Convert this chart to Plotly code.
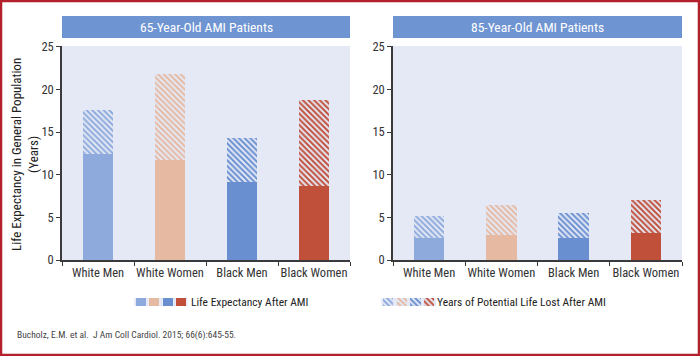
import plotly.graph_objects as go

categories = ["White Men", "White Women", "Black Men", "Black Women"]
colors = ["#8eaadc", "#e6b9a3", "#6a8fd1", "#c1503b"]

after_65 = [12.4, 11.7, 9.1, 8.7]
lost_65 = [5.2, 10.1, 5.2, 10.1]
after_85 = [2.55, 2.95, 2.55, 3.15]
lost_85 = [2.6, 3.5, 3.0, 3.9]

panel_titles = ["65-Year-Old AMI Patients", "85-Year-Old AMI Patients"]
y_ticks = [0, 5, 10, 15, 20, 25]
y_title = "Life Expectancy in General Population<br>(Years)"
legend_labels = ["Life Expectancy After AMI", "Years of Potential Life Lost After AMI"]
citation = "Bucholz, E.M. et al.  J Am Coll Cardiol. 2015; 66(6):645-55."

FONT = "Roboto Condensed"
W, H = 700, 356
ML, MR, MT, MB = 62, 18, 16, 10
PW, PH = W - ML - MR, H - MT - MB

def px(x):
    return (x - ML) / PW

def py(y):
    return (H - MB - y) / PH

hatch = dict(shape="\\", bgcolor="white", size=4, solidity=0.5, fillmode="replace")

fig = go.Figure()
for i, (after, lost) in enumerate([(after_65, lost_65), (after_85, lost_85)]):
    xa = "x" if i == 0 else "x2"
    ya = "y" if i == 0 else "y2"
    fig.add_trace(go.Bar(x=categories, y=after, width=0.42, marker=dict(color=colors, line=dict(width=0)),
                         xaxis=xa, yaxis=ya, showlegend=False))
    fig.add_trace(go.Bar(x=categories, y=lost, width=0.42,
                         marker=dict(color=colors, line=dict(width=0), pattern=hatch),
                         xaxis=xa, yaxis=ya, showlegend=False))

# legend swatches on hidden mini axes
sw = [0, 1, 2, 3]
fig.add_trace(go.Bar(x=sw, y=[1] * 4, width=0.75, marker=dict(color=colors, line=dict(width=0)),
                     xaxis="x3", yaxis="y3", showlegend=False, hoverinfo="skip"))
fig.add_trace(go.Bar(x=sw, y=[1] * 4, width=0.75, marker=dict(color=colors, line=dict(width=0), pattern=dict(hatch, size=4)),
                     xaxis="x4", yaxis="y4", showlegend=False, hoverinfo="skip"))

ydom = [py(260), py(46)]
axis_common = dict(showline=True, linecolor="#3a3a3a", linewidth=1.5, ticks="outside", ticklen=4,
                   tickcolor="#3a3a3a", tickfont=dict(family=FONT, size=12.5, color="#333"),
                   showgrid=False, zeroline=False, fixedrange=True, automargin=False)
hidden = dict(visible=False, fixedrange=True, automargin=False)

fig.update_layout(
    width=W, height=H, margin=dict(l=ML, r=MR, t=MT, b=MB, autoexpand=False),
    paper_bgcolor="white", plot_bgcolor="#e4e9f5", barmode="stack",
    xaxis=dict(domain=[0, px(350)], tickson="boundaries", tickangle=0, anchor="y", **axis_common),
    xaxis2=dict(domain=[px(393), 1], tickson="boundaries", tickangle=0, anchor="y2", **axis_common),
    yaxis=dict(domain=ydom, range=[0, 25.1], tickvals=y_ticks, anchor="x", **axis_common),
    yaxis2=dict(domain=ydom, range=[0, 25.1], tickvals=y_ticks, anchor="x2", **axis_common),
    xaxis3=dict(domain=[px(134.3), px(187.5)], range=[-0.5, 3.5], anchor="y3", **hidden),
    yaxis3=dict(domain=[py(306), py(298)], range=[0, 1], anchor="x3", **hidden),
    xaxis4=dict(domain=[px(381.3), px(436)], range=[-0.5, 3.5], anchor="y4", **hidden),
    yaxis4=dict(domain=[py(306), py(298)], range=[0, 1], anchor="x4", **hidden),
)

# y-axis title
fig.add_annotation(xref="paper", yref="paper", x=px(25), y=py(155), text=y_title, showarrow=False,
                   textangle=-90, xanchor="center", yanchor="middle",
                   font=dict(family=FONT, size=13, color="#222"))

bar_color = "#6f94d2"
title_spans = [(62, 350), (393, 682)]
for (x0, x1), t in zip(title_spans, panel_titles):
    fig.add_shape(type="rect", xref="paper", yref="paper", x0=px(x0), x1=px(x1), y0=py(38), y1=py(16),
                  fillcolor=bar_color, line=dict(width=0), layer="below")
    fig.add_annotation(xref="paper", yref="paper", x=(px(x0) + px(x1)) / 2, y=py(27), text=t, showarrow=False,
                       font=dict(family=FONT, size=13.5, color="white"), xanchor="center", yanchor="middle")

fig.add_annotation(xref="paper", yref="paper", x=px(189), y=py(302), text=legend_labels[0], showarrow=False,
                   xanchor="left", yanchor="middle", font=dict(family=FONT, size=11.5, color="#222"))
fig.add_annotation(xref="paper", yref="paper", x=px(435), y=py(302), text=legend_labels[1], showarrow=False,
                   xanchor="left", yanchor="middle", font=dict(family=FONT, size=11.5, color="#222"))
fig.add_annotation(xref="paper", yref="paper", x=px(15), y=py(335), text=citation, showarrow=False,
                   xanchor="left", yanchor="middle", font=dict(family=FONT, size=9.5, color="#444"))

# red frame
fig.add_shape(type="rect", xref="paper", yref="paper", x0=px(1), x1=px(699), y0=py(355), y1=py(1),
              line=dict(color="#b3202c", width=2.5), fillcolor="rgba(0,0,0,0)")

fig.write_html("out.html", config={"displayModeBar": False},
               post_script="document.body.style.margin='0';document.body.style.padding='0';document.body.style.overflow='hidden';")
